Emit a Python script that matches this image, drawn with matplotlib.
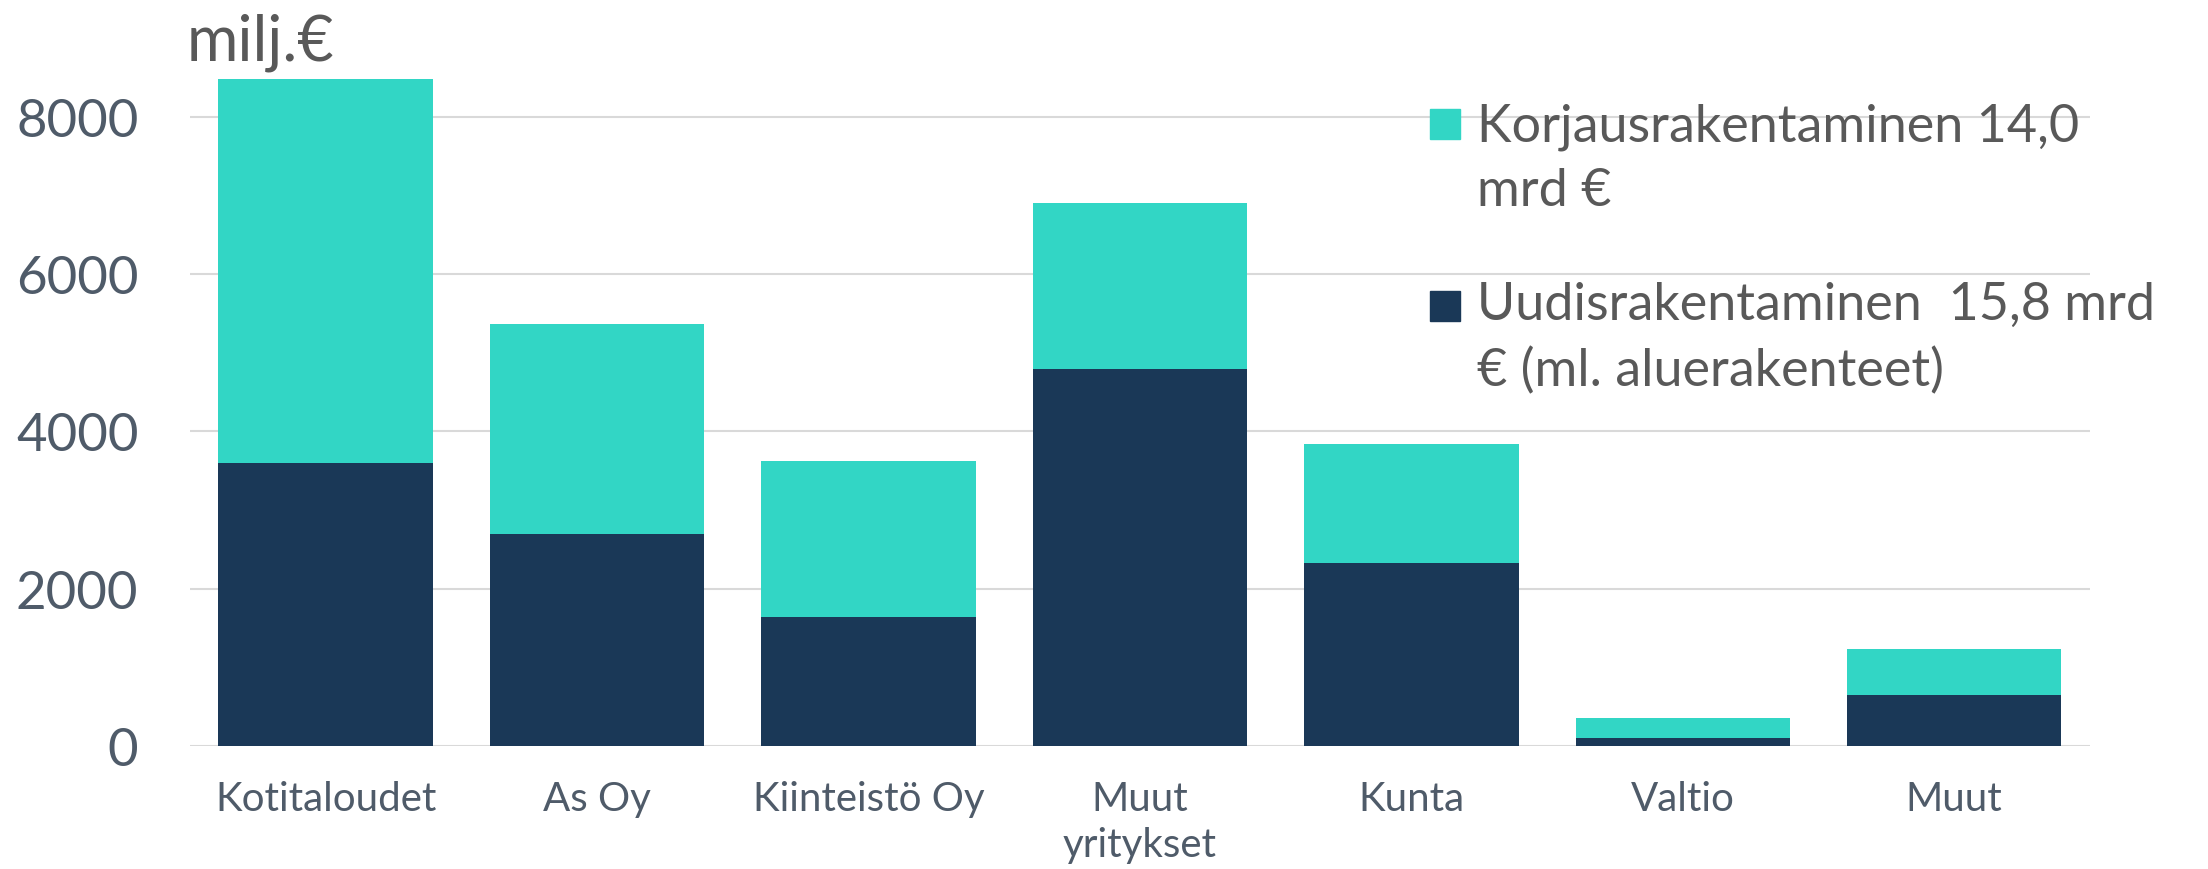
import numpy as np
import matplotlib
matplotlib.use("Agg")
import matplotlib.pyplot as plt
from matplotlib.patches import Rectangle

# categories and values (milj. €)
categories = ["Kotitaloudet", "As Oy", "Kiinteistö Oy", "Muut\nyritykset",
              "Kunta", "Valtio", "Muut"]
uudis = [3600, 2690, 1640, 4790, 2320, 100, 650]
korjaus = [4880, 2670, 1980, 2110, 1520, 250, 580]

series_labels = ["Korjausrakentaminen 14,0\nmrd €",
                 "Uudisrakentaminen  15,8 mrd\n€ (ml. aluerakenteet)"]
yticks = [0, 2000, 4000, 6000, 8000]

teal = "#32d6c5"
navy = "#1a3857"
tick_col = "#4f5b69"
text_col = "#595959"
grid_col = "#d9d9d9"

plt.rcParams['font.family'] = ['Lato', 'DejaVu Sans']

fig = plt.figure(figsize=(22.08, 8.7), dpi=100)
ax = fig.add_axes([0.086, 0.1417, 0.8605, 0.777])

x = np.arange(len(categories))
ax.bar(x, uudis, width=0.79, color=navy, zorder=3)
ax.bar(x, korjaus, width=0.79, bottom=uudis, color=teal, zorder=3)

ax.set_xlim(-0.5, len(categories) - 0.5)
ax.set_ylim(0, 8600)
ax.set_yticks(yticks)
ax.set_yticklabels([str(v) for v in yticks])
ax.set_xticks(x)
ax.set_xticklabels(categories, linespacing=1.28)

for s in ax.spines.values():
    s.set_visible(False)
ax.yaxis.grid(True, color=grid_col, linewidth=1.5, zorder=0)
ax.set_axisbelow(True)

ax.tick_params(axis='y', length=0, pad=37, labelsize=38, labelcolor=tick_col)
ax.tick_params(axis='x', length=0, pad=25, labelsize=29, labelcolor=tick_col)

# unit label
fig.text(0.0847, 0.931, "milj.€", fontsize=45, color=text_col,
         ha='left', va='baseline')

# legend drawn by hand (text anchored on its last line's baseline)
leg_colors = [teal, navy]
leg_sq_y = [0.8391, 0.6299]
leg_txt_y = [0.7632, 0.5563]
for col, lab, sy, ty in zip(leg_colors, series_labels, leg_sq_y, leg_txt_y):
    fig.patches.append(Rectangle((0.6476, sy), 0.01359, 0.0345, color=col,
                                 transform=fig.transFigure, figure=fig))
    fig.text(0.6689, ty, lab, fontsize=37.5, color=text_col, ha='left',
             va='baseline', linespacing=1.46)

fig.savefig("out.png", dpi=100)
